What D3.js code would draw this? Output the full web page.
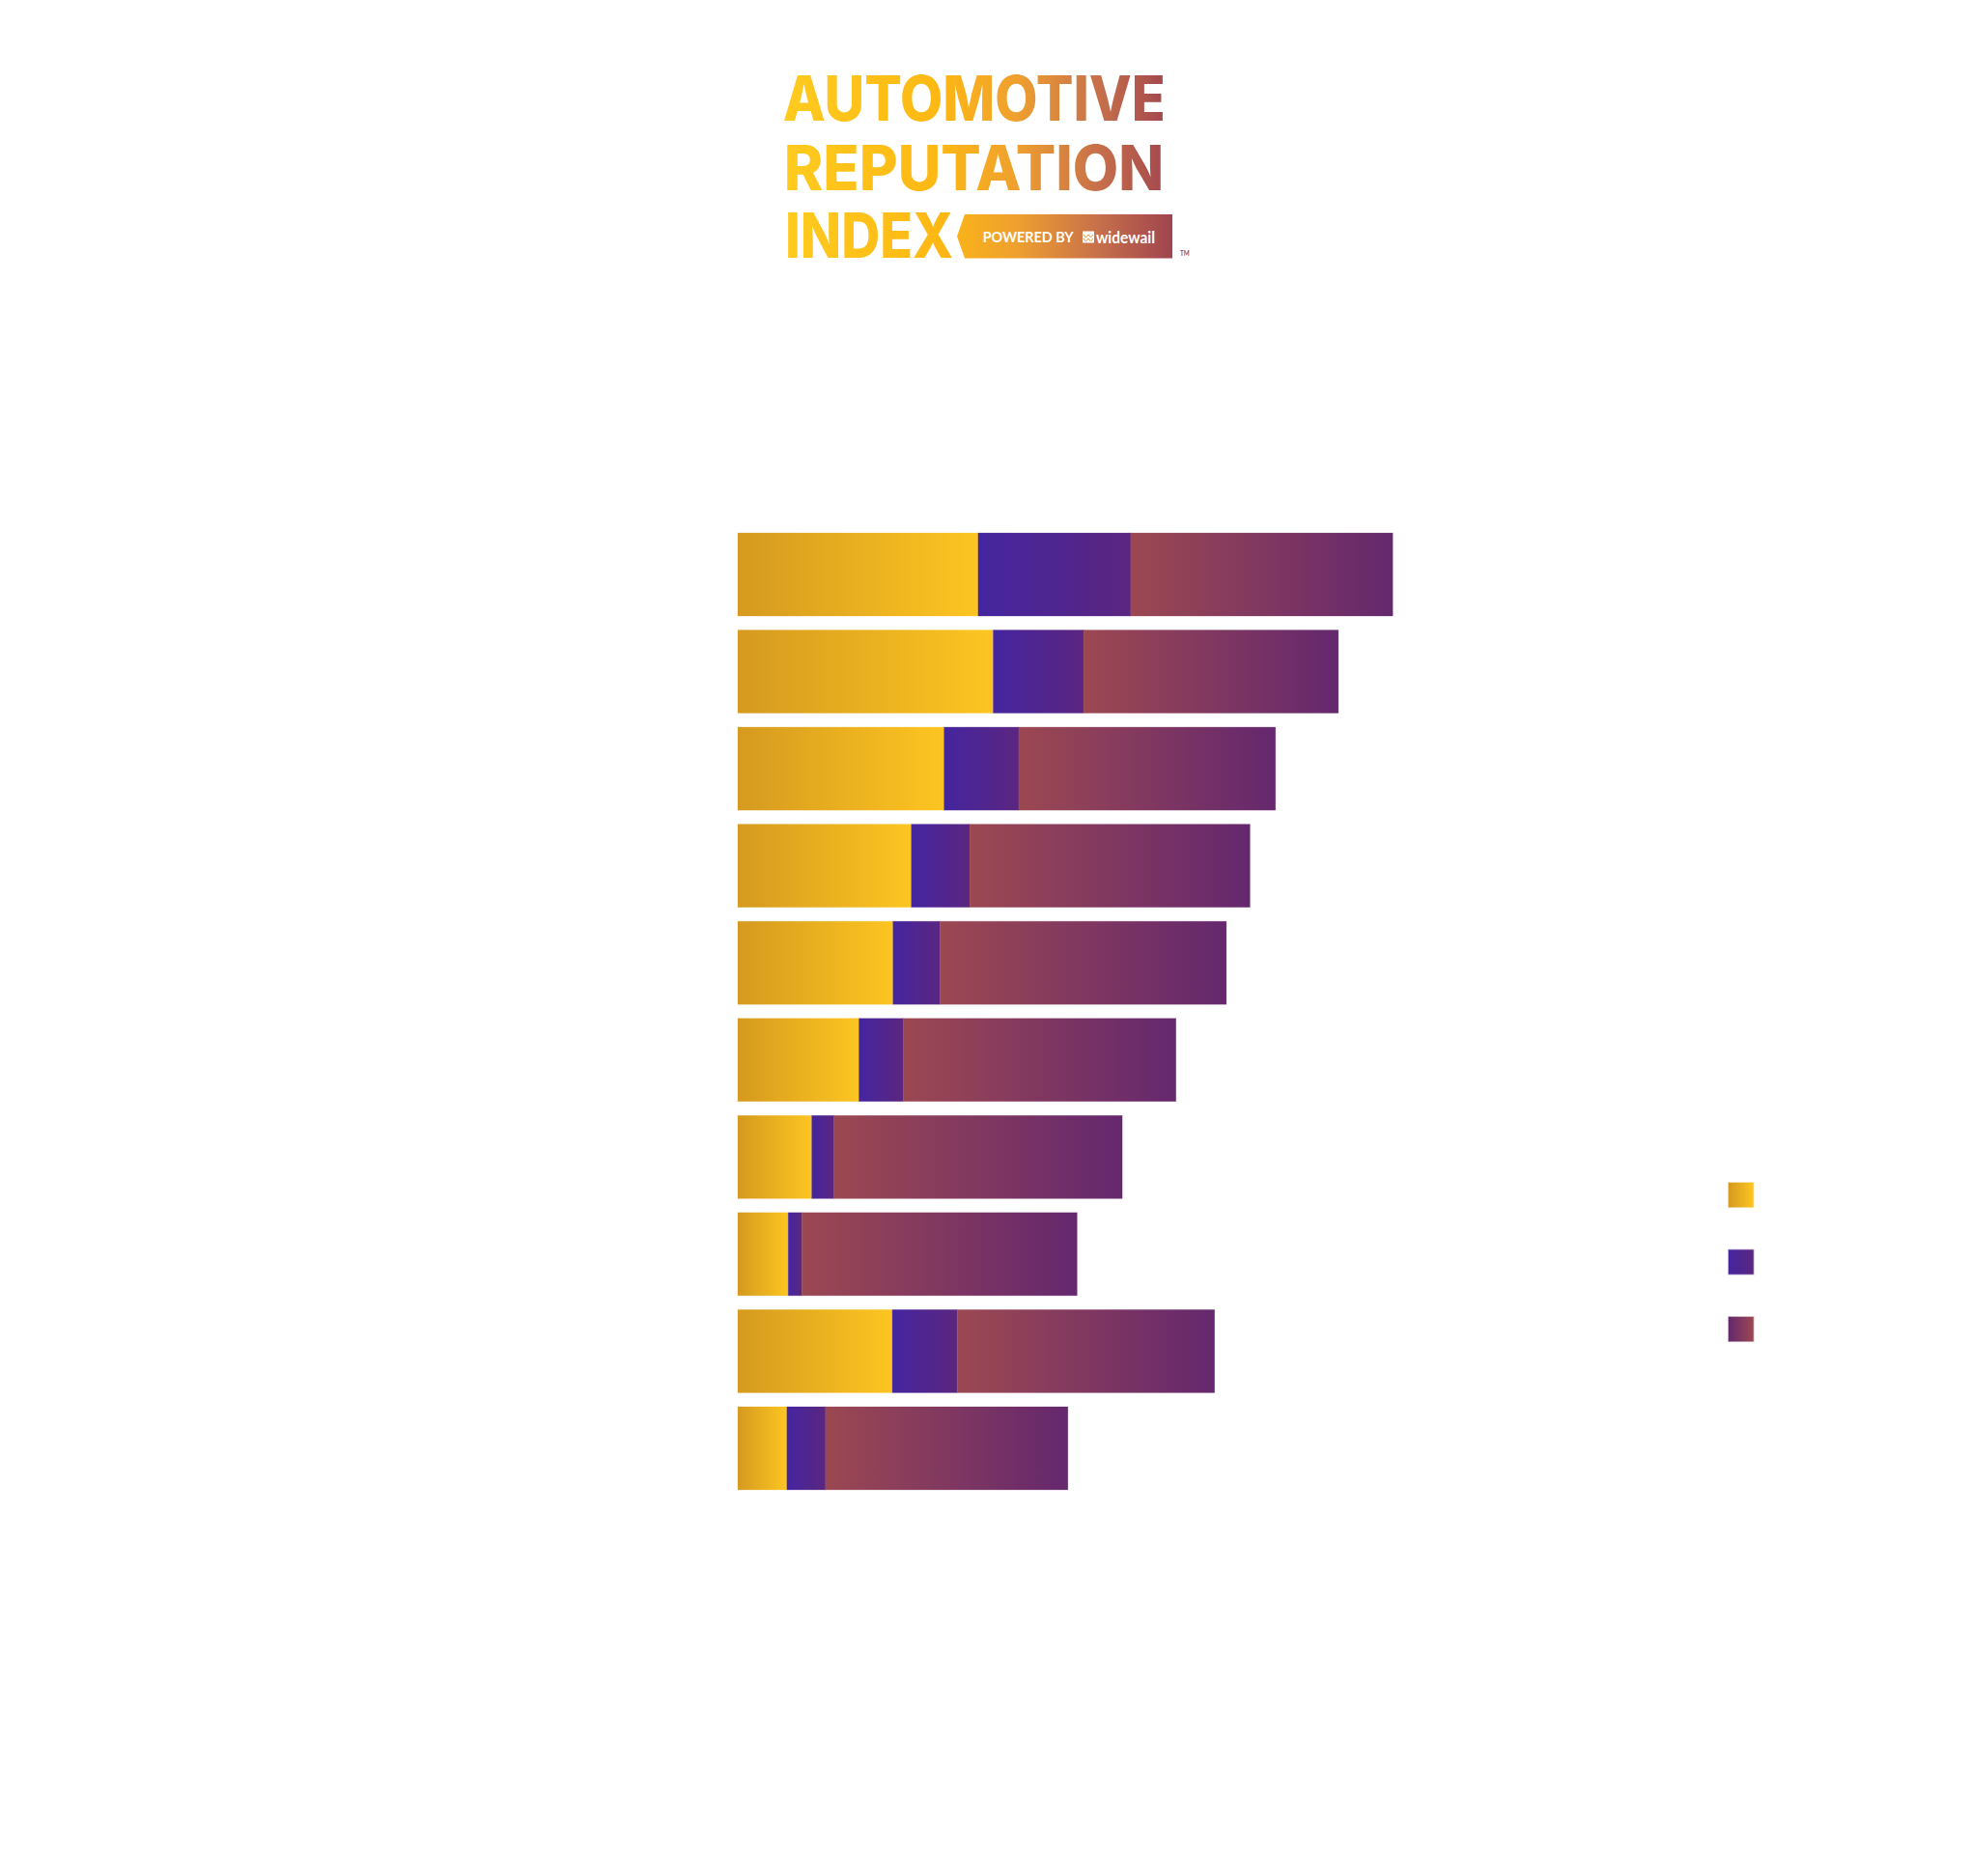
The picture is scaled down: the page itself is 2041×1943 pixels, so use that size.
<!DOCTYPE html>
<html>
<head>
<meta charset="utf-8">
<script src="https://cdn.jsdelivr.net/npm/d3@7"></script>
<style>
  body { margin: 0; background: #fff; }
  svg { display: block; font-family: Lato, 'Noto Sans', sans-serif; }
</style>
</head>
<body>
<div id="chart"></div>
<script>
// data (labels are drawn white, as in the original)
const categories = ['Brand 1', 'Brand 2', 'Brand 3', 'Brand 4', 'Brand 5',
                    'Brand 6', 'Brand 7', 'Brand 8', 'Brand 9', 'Brand 10'];
const positive = [367, 390, 315, 265, 237, 185, 113, 77, 236, 75];
const neutral  = [233, 138, 114, 89, 72, 68, 34, 21, 99, 59];
const negative = [400, 389, 392, 428, 437, 416, 440, 420, 393, 370];
const seriesNames = ['Positive', 'Neutral', 'Negative'];
const titleLines = ['AUTOMOTIVE', 'REPUTATION', 'INDEX'];

const W = 2041, H = 1943;

const rows = categories.map((c, i) => ({
  name: c, Positive: positive[i], Neutral: neutral[i], Negative: negative[i]
}));

const svg = d3.select('#chart').append('svg')
  .attr('width', W)
  .attr('height', H);

svg.append('rect').attr('width', W).attr('height', H).attr('fill', '#fff');

const defs = svg.append('defs');

function grad(id, c0, c1) {
  const g = defs.append('linearGradient').attr('id', id)
    .attr('x1', 0).attr('x2', 1).attr('y1', 0).attr('y2', 0);
  g.append('stop').attr('offset', 0).attr('stop-color', c0);
  g.append('stop').attr('offset', 1).attr('stop-color', c1);
  return g;
}
grad('g-Positive', '#d59a1f', '#fdc521');
grad('g-Neutral', '#44259f', '#5b2680');
grad('g-Negative', '#9c4852', '#65286e');
grad('g-Negative-legend', '#65286e', '#9c4852');

// logo gradient, spread over the whole logo width
const lg = defs.append('linearGradient').attr('id', 'g-logo')
  .attr('gradientUnits', 'userSpaceOnUse')
  .attr('x1', 810).attr('x2', 1214).attr('y1', 0).attr('y2', 0);
[[0, '#ffcb1f'], [0.4, '#fdb813'], [0.6, '#efa02f'], [0.8, '#c9724a'], [1, '#a0444f']]
  .forEach(s => lg.append('stop').attr('offset', s[0]).attr('stop-color', s[1]));

// ---- logo ----
const logo = svg.append('g');
const lineY = [125, 196.7, 267.3];
const lineW = [396, 393.5, 174];
logo.selectAll('text.title')
  .data(titleLines)
  .enter()
  .append('text')
  .attr('class', 'title')
  .attr('x', (d, i) => [810.7, 811.7, 813][i])
  .attr('y', (d, i) => lineY[i])
  .attr('textLength', (d, i) => lineW[i])
  .attr('lengthAdjust', 'spacingAndGlyphs')
  .style('font-family', "Inter, Lato, sans-serif")
  .style('font-size', '64px')
  .style('font-weight', 800)
  .attr('fill', 'url(#g-logo)')
  .text(d => d);

logo.append('polygon')
  .attr('points', '999,222 1214,222 1214,267.5 999,267.5 991,244.7')
  .attr('fill', 'url(#g-logo)');

logo.append('text')
  .attr('x', 1017.7).attr('y', 250.7)
  .attr('textLength', 94).attr('lengthAdjust', 'spacingAndGlyphs')
  .style('font-size', '15px').style('font-weight', 700)
  .attr('fill', '#fff')
  .text('POWERED BY');

logo.append('rect')
  .attr('x', 1121).attr('y', 239.5).attr('width', 12).attr('height', 12)
  .attr('fill', '#fff');
logo.append('path')
  .attr('d', 'M1122,243 l2.5,3 l2.5,-3 l2.5,3 l2.5,-3 M1122,247 l2.5,3 l2.5,-3 l2.5,3 l2.5,-3')
  .attr('fill', 'none').attr('stroke', '#e59a35').attr('stroke-width', 1);

logo.append('text')
  .attr('x', 1135).attr('y', 251.7)
  .attr('textLength', 61).attr('lengthAdjust', 'spacingAndGlyphs')
  .style('font-size', '17px').style('font-weight', 700)
  .attr('fill', '#fff')
  .text('widewail');

logo.append('text')
  .attr('x', 1222).attr('y', 264.5)
  .attr('textLength', 9.7).attr('lengthAdjust', 'spacingAndGlyphs')
  .style('font-size', '7px').style('font-weight', 700)
  .attr('fill', '#8c5563')
  .text('TM');

// ---- bars ----
const x = d3.scaleLinear()
  .domain([0, 1000])
  .range([764, 764 + 678.2]);

const y = d3.scaleBand()
  .domain(categories)
  .range([552, 1543])
  .paddingInner(0.1448)
  .paddingOuter(0);

const stacked = d3.stack().keys(seriesNames)(rows);

const layers = svg.append('g')
  .selectAll('g')
  .data(stacked)
  .enter()
  .append('g')
  .attr('fill', d => 'url(#g-' + d.key + ')')
  .attr('stroke', d => 'url(#g-' + d.key + ')')
  .attr('stroke-opacity', 0.35)
  .attr('stroke-width', 0.8);

layers.selectAll('rect')
  .data(d => d)
  .enter()
  .append('rect')
  .attr('x', d => x(d[0]))
  .attr('y', d => y(d.data.name))
  .attr('width', d => x(d[1]) - x(d[0]))
  .attr('height', y.bandwidth());

// category labels: white, as in the source
svg.append('g')
  .selectAll('text')
  .data(categories)
  .enter()
  .append('text')
  .attr('x', 744)
  .attr('y', d => y(d) + y.bandwidth() / 2)
  .attr('dy', '0.35em')
  .attr('text-anchor', 'end')
  .style('font-size', '22px')
  .attr('fill', '#fff')
  .text(d => d);

// ---- legend ----
const legend = svg.append('g')
  .selectAll('g')
  .data(seriesNames)
  .enter()
  .append('g')
  .attr('transform', (d, i) => 'translate(1790,' + (1225 + i * 69.5) + ')');

legend.append('rect')
  .attr('width', 25.7)
  .attr('height', 25.2)
  .attr('fill', d => d === 'Negative' ? 'url(#g-Negative-legend)' : 'url(#g-' + d + ')')
  .attr('stroke', d => d === 'Negative' ? 'url(#g-Negative-legend)' : 'url(#g-' + d + ')')
  .attr('stroke-opacity', 0.45)
  .attr('stroke-width', 1.5);

legend.append('text')
  .attr('x', 40)
  .attr('y', 13)
  .attr('dy', '0.35em')
  .style('font-size', '22px')
  .attr('fill', '#fff')
  .text(d => d);
</script>
</body>
</html>
